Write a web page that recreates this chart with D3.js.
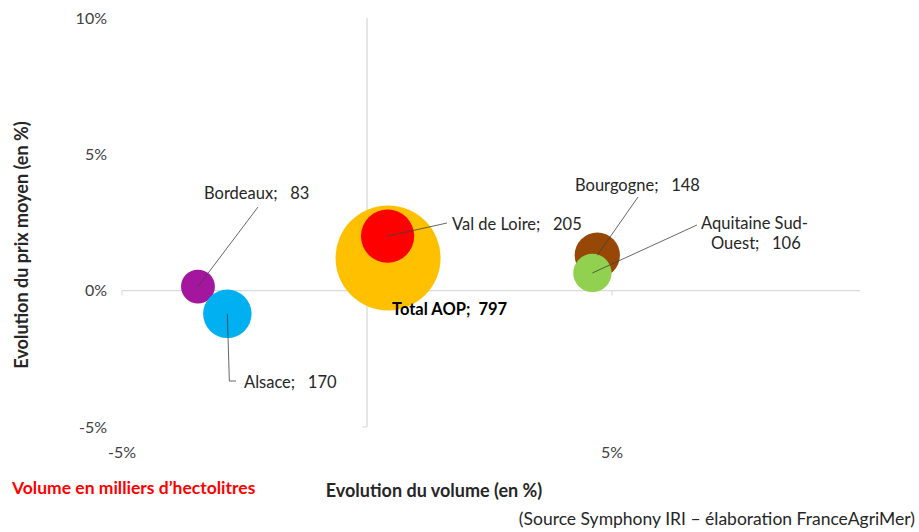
<!DOCTYPE html>
<html>
<head>
<meta charset="utf-8">
<script src="https://cdn.jsdelivr.net/npm/d3@7"></script>
<style>
  body { margin: 0; background: #fff; }
  svg { display: block; font-family: Lato, "Open Sans", sans-serif; }
</style>
</head>
<body>
<script>
// data
const regions = ["Total AOP", "Val de Loire", "Bordeaux", "Alsace", "Bourgogne", "Aquitaine Sud-Ouest"];
const volumeChange = [0.43, 0.42, -3.45, -2.85, 4.7, 4.6];
const priceChange = [1.2, 2.0, 0.15, -0.85, 1.3, 0.65];
const volumes = [797, 205, 83, 170, 148, 106];
const colors = ["#FFC000", "#FF0000", "#A5169F", "#00B0F0", "#984806", "#92D050"];
const xTicks = [-5, 5];
const yTicks = [-5, 0, 5, 10];

// label layout: leader end point + text lines
const labels = [
  { lx: 392, ly: 309, lines: ["Total AOP;  797"], bold: true, noLine: true },
  { lx: 447, ly: 223, tx: 452, ty: 224, lines: ["Val de Loire;   205"] },
  { lx: 258, ly: 207, tx: 204, ty: 193, lines: ["Bordeaux;   83"] },
  { lx: 236, ly: 381, elbow: true, tx: 244, ty: 382, lines: ["Alsace;   170"] },
  { lx: 638, ly: 197, tx: 575, ty: 185, lines: ["Bourgogne;   148"] },
  { lx: 697, ly: 225, tx: 701, ty: 223, lines: ["Aquitaine Sud-", "Ouest;   106"], indent: [0, 10] }
];

const width = 919;
const height = 532;

const svg = d3.select("body").append("svg")
  .attr("width", width)
  .attr("height", height);

const x = d3.scaleLinear().domain([-5, 10]).range([122, 857]);
const y = d3.scaleLinear().domain([-5, 10]).range([427, 18]);
const r = d3.scaleSqrt().domain([0, 797]).range([0, 52.5]);

// axes lines (crossing at 0)
svg.append("line")
  .attr("x1", x(-5)).attr("x2", 860)
  .attr("y1", y(0)).attr("y2", y(0))
  .attr("stroke", "#D9D9D9").attr("stroke-width", 1.3);
svg.append("line")
  .attr("x1", x(0)).attr("x2", x(0))
  .attr("y1", y(10)).attr("y2", y(-5))
  .attr("stroke", "#D9D9D9").attr("stroke-width", 1.3);
svg.append("line")
  .attr("x1", x(-5)).attr("x2", x(-5))
  .attr("y1", y(0)).attr("y2", y(0) + 5)
  .attr("stroke", "#D9D9D9");
svg.append("line")
  .attr("x1", x(5)).attr("x2", x(5))
  .attr("y1", y(0)).attr("y2", y(0) + 5)
  .attr("stroke", "#D9D9D9");
svg.append("line")
  .attr("x1", x(0) - 5).attr("x2", x(0))
  .attr("y1", y(-5)).attr("y2", y(-5))
  .attr("stroke", "#D9D9D9");

// tick labels
svg.selectAll(".ytick").data(yTicks).enter().append("text")
  .attr("class", "ytick")
  .attr("x", 107)
  .attr("y", (d) => y(d))
  .attr("dy", "0.35em")
  .attr("text-anchor", "end")
  .attr("font-size", 16)
  .attr("fill", "#404040")
  .text((d) => d + "%");

svg.selectAll(".xtick").data(xTicks).enter().append("text")
  .attr("class", "xtick")
  .attr("x", (d) => x(d))
  .attr("y", 452)
  .attr("dy", "0.35em")
  .attr("text-anchor", "middle")
  .attr("font-size", 16)
  .attr("fill", "#404040")
  .text((d) => d + "%");

// bubbles
const data = regions.map((name, i) => ({
  name, vx: volumeChange[i], vy: priceChange[i], vol: volumes[i], color: colors[i]
}));

svg.selectAll(".bubble").data(data).enter().append("circle")
  .attr("class", "bubble")
  .attr("cx", (d) => x(d.vx))
  .attr("cy", (d) => y(d.vy))
  .attr("r", (d) => r(d.vol))
  .attr("fill", (d) => d.color);

// leader lines
data.forEach((d, i) => {
  const lab = labels[i];
  if (lab.noLine) return;
  const cx = x(d.vx), cy = y(d.vy);
  let pts = [[cx, cy]];
  if (lab.elbow) pts.push([cx + 2, lab.ly]);
  pts.push([lab.lx, lab.ly]);
  svg.append("path")
    .attr("d", d3.line()(pts))
    .attr("fill", "none")
    .attr("stroke", "#404040")
    .attr("stroke-width", 0.8);
});

// data labels
data.forEach((d, i) => {
  const lab = labels[i];
  const t = svg.append("text")
    .attr("font-size", lab.bold ? 16.5 : 16.5)
    .attr("font-weight", lab.bold ? "bold" : "normal")
    .attr("fill", lab.bold ? "#000" : "#262626")
    .style("white-space", "pre")
    .attr("xml:space", "preserve");
  lab.lines.forEach((line, j) => {
    t.append("tspan")
      .attr("x", (lab.tx !== undefined ? lab.tx : lab.lx) + (lab.indent ? lab.indent[j] : 0))
      .attr("y", (lab.ty !== undefined ? lab.ty : lab.ly) + j * 20)
      .attr("dy", "0.35em")
      .text(line);
  });
});

// axis titles
svg.append("text")
  .attr("transform", `translate(22, 245) rotate(-90)`)
  .attr("text-anchor", "middle")
  .attr("dy", "0.35em")
  .attr("font-size", 18)
  .attr("font-weight", "bold")
  .attr("fill", "#262626")
  .text("Evolution du prix moyen (en %)");

svg.append("text")
  .attr("x", 434)
  .attr("y", 491)
  .attr("dy", "0.35em")
  .attr("text-anchor", "middle")
  .attr("font-size", 18)
  .attr("font-weight", "bold")
  .attr("fill", "#262626")
  .text("Evolution du volume (en %)");

svg.append("text")
  .attr("x", 12)
  .attr("y", 488)
  .attr("dy", "0.35em")
  .attr("font-size", 17.5)
  .attr("font-weight", "bold")
  .attr("fill", "#FF0000")
  .text("Volume en milliers d\u2019hectolitres");

svg.append("text")
  .attr("x", 915)
  .attr("y", 519)
  .attr("dy", "0.35em")
  .attr("text-anchor", "end")
  .attr("font-size", 17.5)
  .attr("fill", "#262626")
  .text("(Source Symphony IRI \u2013 \u00e9laboration FranceAgriMer)");
</script>
</body>
</html>
